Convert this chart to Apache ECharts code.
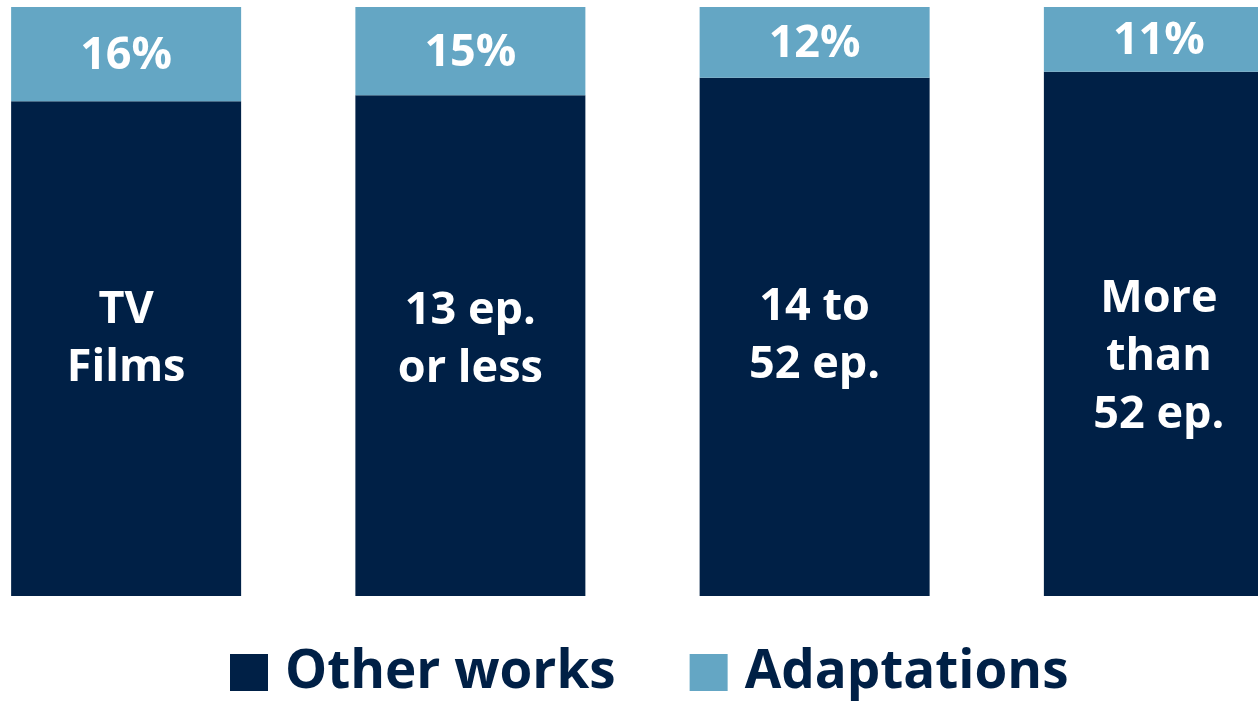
<!DOCTYPE html>
<html>
<head>
<meta charset="utf-8">
<script src="https://cdn.jsdelivr.net/npm/echarts@6/dist/echarts.min.js"></script>
<style>
html,body{margin:0;padding:0;background:#fff;}
#chart{width:1258px;height:708px;}
</style>
</head>
<body>
<div id="chart"></div>
<script>
const categories = ['TV Films', '13 ep. or less', '14 to 52 ep.', 'More than 52 ep.'];
const categoryLabels = ['TV\nFilms', '13 ep.\nor less', '14 to\n52 ep.', 'More\nthan\n52 ep.'];
const otherWorks = [84, 85, 88, 89];
const adaptations = [16, 15, 12, 11];

const labelOffsetY = [-9, -5, -1, 23];
const FONT = 'Open Sans';
const DARK = '#002046';
const LIGHT = '#64A6C4';

const chart = echarts.init(document.getElementById('chart'));
chart.setOption({
  animation: false,
  textStyle: { fontFamily: FONT },
  grid: { left: -46, top: 7, width: 1377, bottom: 112, outerBoundsMode: 'none', containLabel: false },
  legend: {
    bottom: 4,
    left: 225,
    itemWidth: 38,
    itemHeight: 37,
    itemGap: 74,
    icon: 'rect',
    textStyle: { fontFamily: FONT, fontWeight: 'bold', fontSize: 53, color: DARK, padding: [0, 0, 0, 12] },
    data: ['Other works', 'Adaptations']
  },
  xAxis: {
    type: 'category',
    data: categories,
    axisLine: { show: false },
    axisTick: { show: false },
    axisLabel: { show: false }
  },
  yAxis: {
    type: 'value',
    min: 0,
    max: 100,
    show: false,
    splitLine: { show: false }
  },
  series: [
    {
      name: 'Other works',
      type: 'bar',
      stack: 'total',
      barWidth: 230,
      itemStyle: { color: DARK },
      data: otherWorks.map((v, i) => ({
        value: v,
        label: { offset: [0, labelOffsetY[i]] }
      })),
      label: {
        show: true,
        position: 'inside',
        formatter: p => categoryLabels[p.dataIndex],
        color: '#fff',
        fontFamily: FONT,
        fontWeight: 'bold',
        fontSize: 45,
        lineHeight: 58
      }
    },
    {
      name: 'Adaptations',
      type: 'bar',
      stack: 'total',
      barWidth: 230,
      itemStyle: { color: LIGHT },
      data: adaptations,
      label: {
        show: true,
        position: 'inside',
        formatter: p => p.value + '%',
        color: '#fff',
        fontFamily: FONT,
        fontWeight: 'bold',
        fontSize: 45,
        offset: [0, 2]
      }
    }
  ]
});
</script>
</body>
</html>
